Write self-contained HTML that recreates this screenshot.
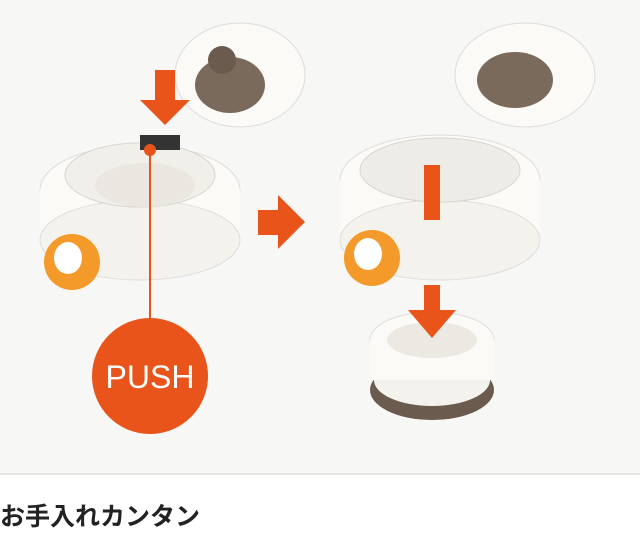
<!DOCTYPE html>
<html><head><meta charset="utf-8"><style>
body{margin:0;width:640px;height:534px;background:#fff;overflow:hidden;position:relative}
.t{position:absolute;left:0;top:502px;font:bold 25px "Liberation Sans","Noto Sans CJK JP",sans-serif;color:#222;line-height:30px;white-space:nowrap}
</style></head><body>
<svg width="640" height="475" style="position:absolute;left:0;top:0">
<rect width="640" height="475" fill="#f7f7f5"/>
<rect y="473" width="640" height="2" fill="#e6e6e2"/>
<!-- left lid -->
<ellipse cx="240" cy="75" rx="65" ry="52" fill="#fbfaf6" stroke="#ddd" />
<ellipse cx="230" cy="85" rx="35" ry="28" fill="#7a6a5c"/>
<ellipse cx="222" cy="60" rx="14" ry="14" fill="#6b5b4e"/>
<!-- left body -->
<ellipse cx="140" cy="190" rx="100" ry="45" fill="#fbfaf6" stroke="#ddd"/>
<rect x="40" y="190" width="200" height="50" fill="#fbfaf6"/>
<ellipse cx="140" cy="240" rx="100" ry="40" fill="#f4f2ec" stroke="#ddd"/>
<ellipse cx="140" cy="175" rx="75" ry="32" fill="#f0efe9" stroke="#d8d6cf"/>
<ellipse cx="145" cy="185" rx="50" ry="22" fill="#e9e7e0"/>
<rect x="140" y="135" width="40" height="15" fill="#333"/>
<ellipse cx="72" cy="262" rx="28" ry="28" fill="#f39a2a"/>
<ellipse cx="68" cy="258" rx="14" ry="16" fill="#fff"/>
<!-- push arrow down -->
<rect x="155" y="70" width="20" height="35" fill="#e8541a"/>
<polygon points="140,100 190,100 165,125" fill="#e8541a"/>
<line x1="150" y1="150" x2="150" y2="320" stroke="#e8541a" stroke-width="2"/>
<circle cx="150" cy="150" r="6" fill="#e8541a"/>
<circle cx="150" cy="376" r="58" fill="#e8541a"/>
<text x="150" y="388" text-anchor="middle" font-family="Liberation Sans,sans-serif" font-size="32" fill="#fff">PUSH</text>
<!-- middle arrow -->
<rect x="258" y="210" width="22" height="25" fill="#e8541a"/>
<polygon points="278,195 305,222 278,249" fill="#e8541a"/>
<!-- right lid -->
<ellipse cx="525" cy="75" rx="70" ry="52" fill="#fbfaf6" stroke="#ddd"/>
<ellipse cx="515" cy="80" rx="38" ry="28" fill="#7a6a5c"/>
<!-- right ring -->
<ellipse cx="440" cy="180" rx="100" ry="45" fill="#fbfaf6" stroke="#ddd"/>
<rect x="340" y="180" width="200" height="60" fill="#fbfaf6"/>
<ellipse cx="440" cy="240" rx="100" ry="40" fill="#f4f2ec" stroke="#ddd"/>
<ellipse cx="440" cy="170" rx="80" ry="32" fill="#eeece6" stroke="#d8d6cf"/>
<ellipse cx="372" cy="258" rx="28" ry="28" fill="#f39a2a"/>
<ellipse cx="368" cy="254" rx="14" ry="16" fill="#fff"/>
<!-- cap -->
<ellipse cx="432" cy="390" rx="62" ry="30" fill="#6b5b4e"/>
<ellipse cx="432" cy="380" rx="58" ry="26" fill="#f4f2ec"/>
<ellipse cx="432" cy="340" rx="62" ry="28" fill="#fbfaf6" stroke="#ddd"/>
<rect x="370" y="340" width="124" height="40" fill="#fbfaf6"/>
<ellipse cx="432" cy="340" rx="45" ry="18" fill="#ebe9e2"/>
<!-- right arrows -->
<rect x="424" y="165" width="16" height="55" fill="#e8541a"/>
<rect x="424" y="285" width="16" height="30" fill="#e8541a"/>
<polygon points="408,310 456,310 432,338" fill="#e8541a"/>
</svg>
<div class="t">お手入れカンタン</div>
</body></html>
